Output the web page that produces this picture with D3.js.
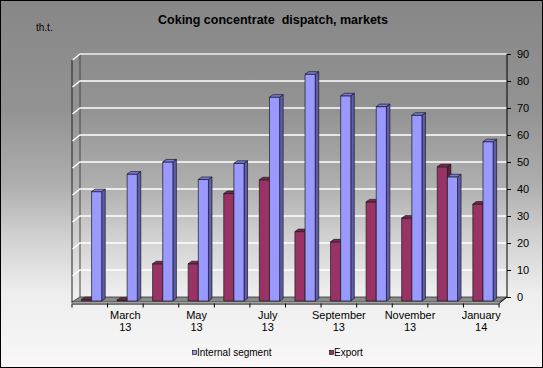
<!DOCTYPE html>
<html>
<head>
<meta charset="utf-8">
<script src="https://d3js.org/d3.v7.min.js"></script>
<style>
  body { margin: 0; }
  svg { display: block; font-family: Arial, "Liberation Sans", sans-serif; }
</style>
</head>
<body>
<svg width="543" height="368"></svg>
<script>
  // Data (thousand tonnes)
  const categories = ['February 13', 'March 13', 'April 13', 'May 13', 'June 13', 'July 13',
                      'August 13', 'September 13', 'October 13', 'November 13', 'December 13', 'January 14'];
  const internalSegment = [40.5, 47, 51.5, 45, 51, 75.5, 84, 76, 72, 68.8, 46, 59];
  const exportValues = [0.5, 0.3, 13.8, 13.8, 39.8, 44.9, 25.7, 21.9, 36.7, 30.7, 49.7, 35.9];
  const yTicks = [0, 10, 20, 30, 40, 50, 60, 70, 80, 90];
  const seriesNames = ['Export', 'Internal segment'];

  const series = [
    {name: 'Export', values: exportValues, front: '#993366', top: '#7a2952', side: '#5e1f3f'},
    {name: 'Internal segment', values: internalSegment, front: '#9999ff', top: '#7a7ae0', side: '#5c5cb0'}
  ];

  const svg = d3.select('svg');

  // background gradient
  const defs = svg.append('defs');
  const grad = defs.append('linearGradient').attr('id', 'bg').attr('x1', 0).attr('y1', 0).attr('x2', 0).attr('y2', 1);
  [[0, '#878787'], [0.3, '#939393'], [0.5, '#aeaeae'], [0.65, '#d2d2d2'], [0.8, '#eeeeee'], [1, '#f9f7f7']]
    .forEach(s => grad.append('stop').attr('offset', s[0]).attr('stop-color', s[1]));

  svg.append('rect').attr('x', 0.5).attr('y', 0.5).attr('width', 542).attr('height', 367)
    .attr('fill', 'url(#bg)').attr('stroke', '#000');

  // scales: x on the front plane, y on the back wall
  const x = d3.scaleBand().domain(categories).range([72, 499]);
  const inner = d3.scaleBand().domain(seriesNames).range([x.bandwidth() * 0.265, x.bandwidth() * 0.835]);
  const y = d3.scaleLinear().domain([0, 90]).range([297, 54]);

  const wall = {dx: 8, dy: -6};     // depth of the walls
  const bar = {dx: 3.5, dy: -2.5};  // depth of a bar
  const frontBase = y(0) + 4;       // bar front bottom

  const backL = 80, backR = 507;

  // side wall and back wall outlines
  svg.append('path')
    .attr('d', `M72,${y(0) - wall.dy} L72,${y(90) - wall.dy} L${backL},${y(90)} L${backR},${y(90)}`)
    .attr('fill', 'none').attr('stroke', '#222').attr('stroke-width', 1);
  svg.append('line').attr('x1', backL).attr('x2', backL).attr('y1', y(90)).attr('y2', y(0))
    .attr('stroke', '#444').attr('stroke-width', 1);

  // gridlines on back and side wall
  const grid = svg.append('g').attr('stroke', '#fff').attr('stroke-width', 1.5).attr('fill', 'none');
  yTicks.filter(v => v > 0).forEach(v => {
    grid.append('path').attr('d', `M72.5,${y(v) - wall.dy} L${backL},${y(v)} L${backR},${y(v)}`);
  });

  // floor
  svg.append('path')
    .attr('d', `M72,${y(0) + 5} L${backL},${y(0)} L${backR},${y(0)} L${499},${y(0) + 5} Z`)
    .attr('fill', '#8a8a8a').attr('stroke', '#333').attr('stroke-width', 0.8);

  // bars
  const bars = svg.append('g');
  categories.forEach((c, i) => {
    series.forEach(s => {
      const v = s.values[i];
      const x0 = x(c) + inner(s.name);
      const w = inner.bandwidth();
      const yt = frontBase - (y(0) - y(v));
      const g = bars.append('g').attr('stroke', '#1a1a1a').attr('stroke-width', 0.7).attr('stroke-linejoin', 'round');
      g.append('path').attr('fill', s.side)
        .attr('d', `M${x0 + w},${yt} L${x0 + w + bar.dx},${yt + bar.dy} L${x0 + w + bar.dx},${frontBase + bar.dy} L${x0 + w},${frontBase} Z`);
      g.append('rect').attr('x', x0).attr('y', yt).attr('width', w).attr('height', frontBase - yt).attr('fill', s.front);
      g.append('path').attr('fill', s.top)
        .attr('d', `M${x0},${yt} L${x0 + w},${yt} L${x0 + w + bar.dx},${yt + bar.dy} L${x0 + bar.dx},${yt + bar.dy} Z`);
    });
  });

  // x axis on the front edge
  const xAxis = d3.axisBottom(x).tickSize(0).tickFormat(d => '');
  const xg = svg.append('g').attr('transform', 'translate(0,303.5)').call(xAxis);
  xg.select('.domain').attr('stroke', '#000');
  xg.selectAll('.catTick').data(d3.range(categories.length + 1)).enter().append('line')
    .attr('x1', i => 72 + i * x.bandwidth()).attr('x2', i => 72 + i * x.bandwidth())
    .attr('y1', 0).attr('y2', 4).attr('stroke', '#000');
  const labels = svg.append('g').attr('font-size', 11).attr('fill', '#000').attr('text-anchor', 'middle');
  categories.forEach((c, i) => {
    if (i % 2 === 0) return;
    const parts = c.split(' ');
    const t = labels.append('text').attr('x', x(c) + x.bandwidth() / 2).attr('y', 319);
    t.append('tspan').attr('x', x(c) + x.bandwidth() / 2).text(parts[0]);
    t.append('tspan').attr('x', x(c) + x.bandwidth() / 2).attr('dy', 12).text(parts[1]);
  });

  // right value axis on the back plane
  const yAxis = d3.axisRight(y).tickValues(yTicks).tickSize(4).tickPadding(6);
  const yg = svg.append('g').attr('transform', `translate(${backR},0)`).call(yAxis);
  yg.select('.domain').attr('stroke', '#000').attr('d', `M0,${y(90)}V${y(0)}`);
  yg.selectAll('.tick line').attr('stroke', '#000');
  yg.selectAll('.tick text').attr('font-size', 11).attr('fill', '#000').attr('font-family', 'Arial, "Liberation Sans", sans-serif');
  // right floor edge
  svg.append('line').attr('x1', backR).attr('y1', y(0)).attr('x2', 499).attr('y2', y(0) + 6.5).attr('stroke', '#000');

  // titles
  svg.append('text').attr('x', 273).attr('y', 24).attr('text-anchor', 'middle')
    .attr('font-size', 12.5).attr('font-weight', 'bold').attr('fill', '#000').attr('xml:space', 'preserve')
    .text('Coking concentrate  dispatch, markets');
  svg.append('text').attr('x', 36).attr('y', 31).attr('font-size', 10).attr('fill', '#000').text('th.t.');

  // legend
  const legend = svg.append('g').attr('font-size', 10);
  [{name: 'Internal segment', x: 192}, {name: 'Export', x: 329}].forEach(l => {
    const s = series.find(d => d.name === l.name);
    legend.append('rect').attr('x', l.x + 0.5).attr('y', 350.5).attr('width', 4).attr('height', 4)
      .attr('fill', s.front).attr('stroke', '#000').attr('stroke-width', 0.6);
    legend.append('text').attr('x', l.x + 5).attr('y', 356).attr('fill', '#000').text(l.name);
  });
</script>
</body>
</html>
